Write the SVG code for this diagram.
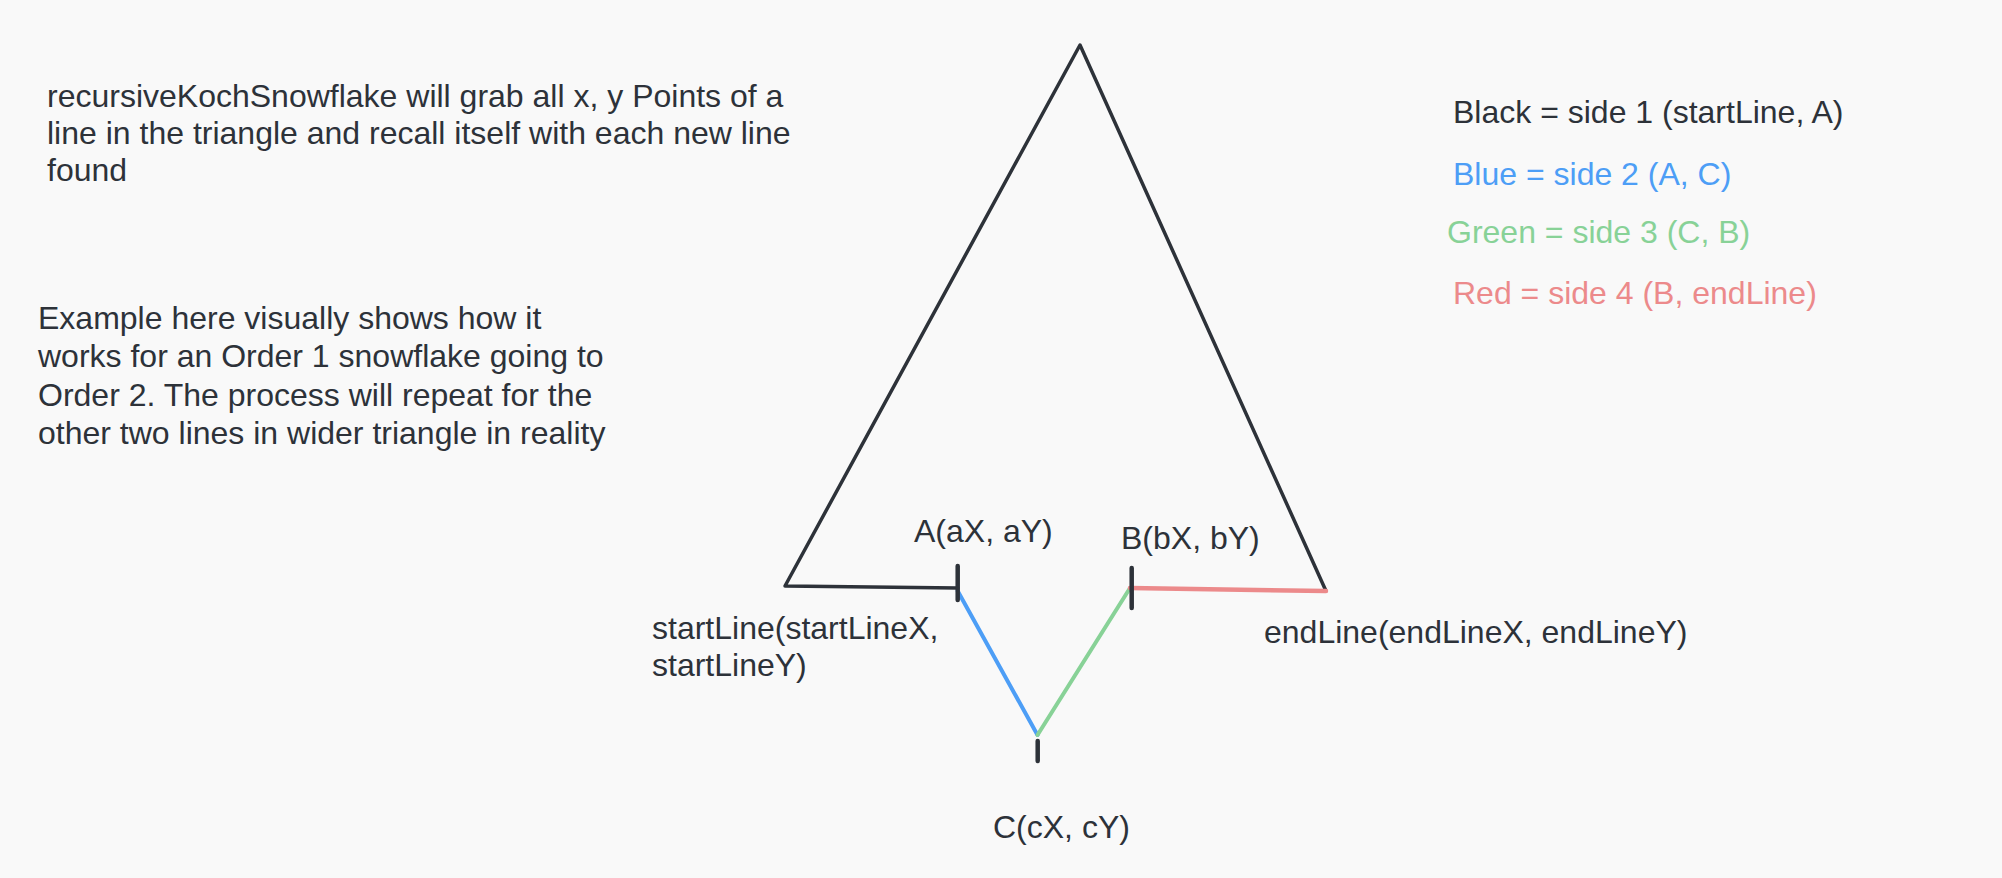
<svg xmlns="http://www.w3.org/2000/svg" width="2002" height="878" viewBox="0 0 2002 878">
<style>
text{font-family:"Liberation Sans",Arial,Helvetica,sans-serif;font-size:32px;fill:#2d3239}
.blue{fill:#4d9ef6}.green{fill:#88d297}.red{fill:#ec8a8b}
.k{stroke:#2d3239;stroke-width:3.5;fill:none;stroke-linecap:round;stroke-linejoin:round}
.tick{stroke:#2d3239;stroke-width:4.5;stroke-linecap:round}
</style>
<rect width="2002" height="878" fill="#f9f9f9"/>
<g id="notes">
<text x="47" y="107">recursiveKochSnowflake will grab all x, y Points of a</text>
<text x="47" y="144">line in the triangle and recall itself with each new line</text>
<text x="47" y="181">found</text>
<text x="38" y="329">Example here visually shows how it</text>
<text x="38" y="367">works for an Order 1 snowflake going to</text>
<text x="38" y="406">Order 2. The process will repeat for the</text>
<text x="38" y="444">other two lines in wider triangle in reality</text>
</g>
<g id="legend">
<text x="1453" y="123">Black = side 1 (startLine, A)</text>
<text class="blue" x="1453" y="185">Blue = side 2 (A, C)</text>
<text class="green" x="1447" y="243">Green = side 3 (C, B)</text>
<text class="red" x="1453" y="304">Red = side 4 (B, endLine)</text>
</g>
<g id="connectors">
<polyline class="k" points="957.7,588 785,586 1080,45 1326,591"/>
<line x1="957.7" y1="591" x2="1037.5" y2="735" stroke="#4d9ef6" stroke-width="4" stroke-linecap="round"/>
<line x1="1037.5" y1="735" x2="1130" y2="588" stroke="#88d297" stroke-width="4" stroke-linecap="round"/>
<line x1="1130" y1="588" x2="1326" y2="591" stroke="#ec8a8b" stroke-width="4.5" stroke-linecap="round"/>
</g>
<g id="startLine">
<text x="652" y="639">startLine(startLineX,</text>
<text x="652" y="676">startLineY)</text>
</g>
<g id="A">
<line class="tick" x1="957.7" y1="566" x2="957.7" y2="600"/>
<text x="914" y="542">A(aX, aY)</text>
</g>
<g id="B">
<line class="tick" x1="1131.7" y1="568" x2="1131.7" y2="608"/>
<text x="1121" y="549">B(bX, bY)</text>
</g>
<g id="C">
<line class="tick" x1="1037.7" y1="741" x2="1037.7" y2="761"/>
<text x="993" y="838">C(cX, cY)</text>
</g>
<g id="endLine">
<text x="1264" y="643">endLine(endLineX, endLineY)</text>
</g>
</svg>
